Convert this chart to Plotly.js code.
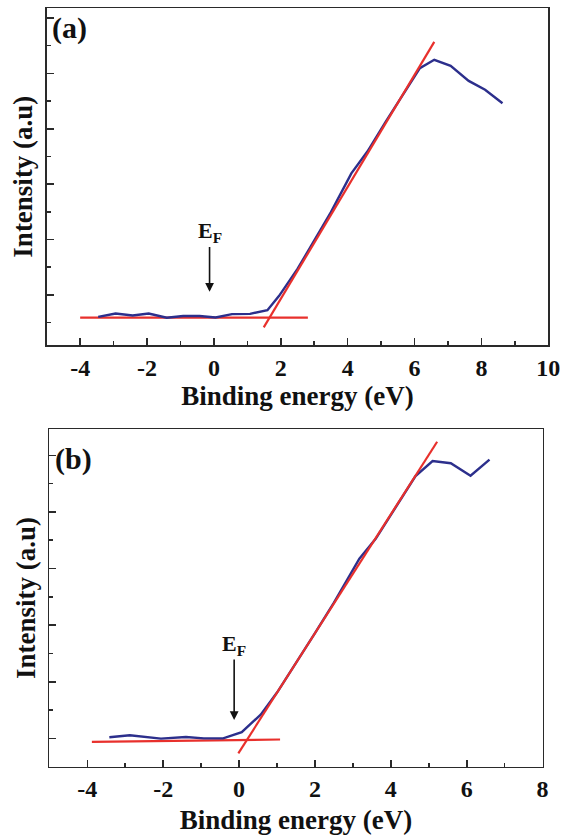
<!DOCTYPE html>
<html>
<head>
<meta charset="utf-8">
<script src="https://cdn.plot.ly/plotly-3.0.1.min.js"></script>
<style>
  html, body { margin: 0; padding: 0; background: #ffffff; }
  #chart { width: 567px; height: 839px; }
</style>
</head>
<body>
<div id="chart"></div>
<script>
// ---------------- Data ----------------
// Panel (a)
const spectrumA_x = [-3.46, -2.94, -2.43, -1.95, -1.41, -0.92, -0.43, 0.05, 0.54, 1.08, 1.6, 1.95, 2.5, 3.0, 3.5, 4.11, 4.59, 5.14, 5.62, 6.16, 6.59, 7.08, 7.62, 8.11, 8.63];
const spectrumA_y = [0.21, 0.33, 0.26, 0.33, 0.18, 0.24, 0.24, 0.19, 0.31, 0.32, 0.45, 0.97, 1.94, 2.94, 3.99, 5.39, 6.18, 7.26, 8.17, 9.19, 9.49, 9.27, 8.73, 8.41, 7.92];
const edgeFitA_x = [1.49, 6.59];
const edgeFitA_y = [-0.17, 10.14];
const baseFitA_x = [-4.0, 2.81];
const baseFitA_y = [0.18, 0.18];
const fermiA = {x: -0.13, tipY: 1.12, labelY: 3.26};

// Panel (b)
const spectrumB_x = [-3.42, -2.88, -2.06, -1.4, -0.93, -0.42, 0.07, 0.57, 1.0, 1.5, 2.0, 2.5, 3.0, 3.17, 3.6, 4.0, 4.65, 5.1, 5.58, 6.1, 6.6];
const spectrumB_y = [1.04, 1.11, 0.99, 1.05, 1.0, 1.0, 1.22, 1.84, 2.62, 3.66, 4.72, 5.8, 6.95, 7.35, 8.05, 8.9, 10.27, 10.8, 10.72, 10.28, 10.85];
const edgeFitB_x = [-0.02, 5.22];
const edgeFitB_y = [0.47, 11.48];
const baseFitB_x = [-3.88, 1.08];
const baseFitB_y = [0.88, 0.96];
const fermiB = {x: -0.13, tipY: 1.65, labelY: 4.3};

const xTicksA = [-4, -2, 0, 2, 4, 6, 8, 10];
const xTicksB = [-4, -2, 0, 2, 4, 6, 8];

// ---------------- Styling ----------------
const BLUE = '#2c2f8c';
const RED = '#e8302c';
const AXC = '#2a2a2a';
const FAM = '"Liberation Serif", "Times New Roman", Times, serif';
const tickFont = {family: FAM, size: 24, color: '#111', weight: 'bold'};
const titleFont = {family: FAM, size: 27, color: '#111', weight: 'bold'};

function xAxis(domain, range, ticks, anchor, standoff) {
  return {
    domain: domain, range: range, anchor: anchor,
    tickmode: 'array', tickvals: ticks, ticktext: ticks.map(String),
    ticks: 'inside', ticklen: 7, tickwidth: 1.6, tickcolor: AXC,
    minor: {ticks: 'inside', ticklen: 4, tickwidth: 1.6, tickcolor: AXC, dtick: 1, tick0: -5, showgrid: false},
    showline: true, linecolor: AXC, linewidth: 1.8, mirror: true,
    showgrid: false, zeroline: false,
    tickfont: tickFont, ticklabelstandoff: 0,
    title: {text: 'Binding energy (eV)', font: titleFont, standoff: standoff}
  };
}
function yAxis(domain, range, anchor) {
  return {
    domain: domain, range: range, anchor: anchor,
    tickmode: 'linear', tick0: 1, dtick: 2,
    ticks: 'inside', ticklen: 7, tickwidth: 1.6, tickcolor: AXC,
    minor: {ticks: 'inside', ticklen: 4, tickwidth: 1.6, tickcolor: AXC, dtick: 1, tick0: 0, showgrid: false},
    showticklabels: false,
    showline: true, linecolor: AXC, linewidth: 1.8, mirror: true,
    showgrid: false, zeroline: false,
    title: {text: 'Intensity (a.u)', font: titleFont, standoff: 4}
  };
}

const traces = [
  {x: baseFitA_x, y: baseFitA_y, xaxis: 'x', yaxis: 'y', mode: 'lines', line: {color: RED, width: 2.2}, hoverinfo: 'skip'},
  {x: spectrumA_x, y: spectrumA_y, xaxis: 'x', yaxis: 'y', mode: 'lines', line: {color: BLUE, width: 2.4}},
  {x: edgeFitA_x, y: edgeFitA_y, xaxis: 'x', yaxis: 'y', mode: 'lines', line: {color: RED, width: 2.2}, hoverinfo: 'skip'},
  {x: baseFitB_x, y: baseFitB_y, xaxis: 'x2', yaxis: 'y2', mode: 'lines', line: {color: RED, width: 2.2}, hoverinfo: 'skip'},
  {x: spectrumB_x, y: spectrumB_y, xaxis: 'x2', yaxis: 'y2', mode: 'lines', line: {color: BLUE, width: 2.4}},
  {x: edgeFitB_x, y: edgeFitB_y, xaxis: 'x2', yaxis: 'y2', mode: 'lines', line: {color: RED, width: 2.2}, hoverinfo: 'skip'}
];

function fermiAnnotation(f, xr, yr) {
  return {xref: xr, yref: yr, x: f.x, y: f.tipY, axref: xr, ayref: yr, ax: f.x, ay: f.labelY,
    text: 'E<sub>F</sub>', showarrow: true, arrowhead: 2, arrowsize: 1.1, arrowwidth: 1.6, arrowcolor: '#111',
    borderpad: 0, font: {family: FAM, size: 22, color: '#111', weight: 'bold'}};
}

const layout = {
  width: 567, height: 839,
  margin: {l: 0, r: 0, t: 0, b: 0},
  paper_bgcolor: '#ffffff', plot_bgcolor: '#ffffff',
  showlegend: false,
  xaxis: xAxis([0.0824, 0.967], [-5, 10], xTicksA, 'y', 2),
  yaxis: yAxis([0.5888, 0.9901], [-0.805, 11.35], 'x'),
  xaxis2: xAxis([0.0871, 0.957], [-5, 8], xTicksB, 'y2', 9),
  yaxis2: yAxis([0.0862, 0.4883], [0.0, 11.92], 'x2'),
  annotations: [
    {xref: 'paper', yref: 'paper', x: 0.1217, y: 0.9672, text: '(a)', showarrow: false,
     xanchor: 'center', yanchor: 'middle', font: {family: FAM, size: 30, color: '#111', weight: 'bold'}},
    {xref: 'paper', yref: 'paper', x: 0.130, y: 0.4529, text: '(b)', showarrow: false,
     xanchor: 'center', yanchor: 'middle', font: {family: FAM, size: 30, color: '#111', weight: 'bold'}},
    fermiAnnotation(fermiA, 'x', 'y'),
    fermiAnnotation(fermiB, 'x2', 'y2')
  ]
};

Plotly.newPlot('chart', traces, layout, {staticPlot: true, displayModeBar: false});
</script>
</body>
</html>
